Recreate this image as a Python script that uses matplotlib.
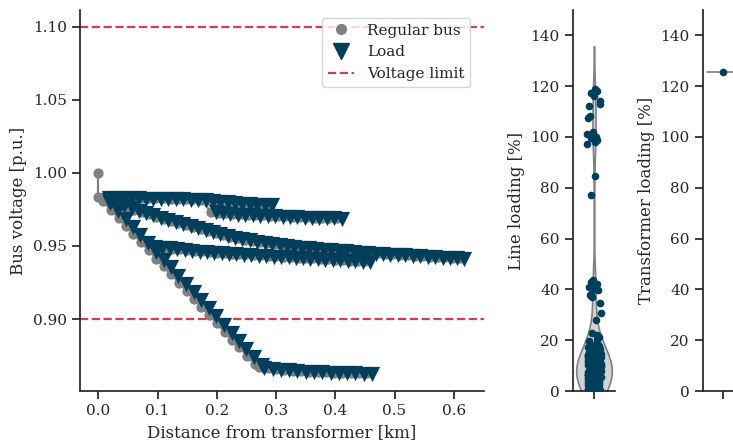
import numpy as np
import matplotlib
matplotlib.use("Agg")
import matplotlib.pyplot as plt
import seaborn as sns
from matplotlib.lines import Line2D

# ---------------- data ----------------
mv_bus = (0.0, 1.000)
lv_bus = (0.0, 0.9836)

# Feeder A (steep part)
a1_bus_x = [0.008, 0.021, 0.034, 0.046, 0.059, 0.072, 0.085, 0.098, 0.110, 0.123, 0.136, 0.149, 0.162, 0.174,
            0.187, 0.200, 0.213, 0.226, 0.238, 0.251, 0.264]
a1_bus_v = [0.9805, 0.9749, 0.9692, 0.9640, 0.9583, 0.9527, 0.9470, 0.9414, 0.9361, 0.9305, 0.9248, 0.9192, 0.9135, 0.9083,
            0.9027, 0.8970, 0.8913, 0.8857, 0.8805, 0.8748, 0.8692]
a1_load_x = [0.020, 0.033, 0.046, 0.058, 0.071, 0.084, 0.097, 0.110, 0.122, 0.135, 0.148, 0.161, 0.174, 0.186,
             0.199, 0.212, 0.225, 0.238, 0.250, 0.263, 0.276]
a1_load_v = [0.9797, 0.9741, 0.9684, 0.9632, 0.9575, 0.9519, 0.9462, 0.9406, 0.9353, 0.9297, 0.9240, 0.9184, 0.9127, 0.9075,
             0.9019, 0.8962, 0.8905, 0.8849, 0.8797, 0.8740, 0.8684]
# Feeder A (flat tail)
a2_bus_x = [0.272, 0.286, 0.300, 0.314, 0.328, 0.342, 0.356, 0.370, 0.384, 0.398, 0.412, 0.426, 0.440, 0.454]
a2_bus_v = [0.8668, 0.8662, 0.8656, 0.8651, 0.8647, 0.8643, 0.8640, 0.8637, 0.8635, 0.8633, 0.8631, 0.8630, 0.8629, 0.8629]
a2_load_x = [0.280, 0.294, 0.308, 0.322, 0.336, 0.350, 0.364, 0.378, 0.392, 0.406, 0.420, 0.434, 0.448, 0.462]
a2_load_v = [0.8665, 0.8659, 0.8653, 0.8648, 0.8644, 0.8640, 0.8637, 0.8634, 0.8632, 0.8630, 0.8628, 0.8627, 0.8626, 0.8626]

# Feeder C (long middle feeder)
c_bus_x = [0.010, 0.023, 0.035, 0.048, 0.060, 0.073, 0.085, 0.098, 0.110, 0.123, 0.135, 0.148, 0.160, 0.173,
           0.185, 0.198, 0.210, 0.223, 0.235, 0.248, 0.260, 0.273, 0.285, 0.298, 0.310, 0.323, 0.335, 0.348,
           0.360, 0.373, 0.385, 0.398, 0.410, 0.423, 0.435, 0.448, 0.460, 0.473, 0.485, 0.498, 0.510, 0.523,
           0.535, 0.548, 0.560, 0.573, 0.585, 0.598, 0.610]
c_bus_v = [0.9822, 0.9800, 0.9782, 0.9764, 0.9747, 0.9731, 0.9716, 0.9700, 0.9685, 0.9670, 0.9655, 0.9641, 0.9627, 0.9613,
           0.9600, 0.9587, 0.9575, 0.9563, 0.9553, 0.9543, 0.9534, 0.9526, 0.9518, 0.9511, 0.9505, 0.9499, 0.9494, 0.9489,
           0.9485, 0.9480, 0.9476, 0.9472, 0.9468, 0.9464, 0.9460, 0.9456, 0.9453, 0.9449, 0.9446, 0.9443, 0.9440, 0.9437,
           0.9434, 0.9431, 0.9428, 0.9425, 0.9423, 0.9420, 0.9418]
c_load_x = [0.018, 0.031, 0.043, 0.056, 0.068, 0.081, 0.093, 0.106, 0.118, 0.131, 0.143, 0.156, 0.168, 0.181,
            0.193, 0.206, 0.218, 0.231, 0.243, 0.256, 0.268, 0.281, 0.293, 0.306, 0.318, 0.331, 0.343, 0.356,
            0.368, 0.381, 0.393, 0.406, 0.418, 0.431, 0.443, 0.456, 0.468, 0.481, 0.493, 0.506, 0.518, 0.531,
            0.543, 0.556, 0.568, 0.581, 0.593, 0.606, 0.618]
c_load_v = [0.9817, 0.9795, 0.9777, 0.9759, 0.9742, 0.9726, 0.9711, 0.9695, 0.9680, 0.9665, 0.9650, 0.9636, 0.9622, 0.9608,
            0.9595, 0.9582, 0.9570, 0.9558, 0.9548, 0.9538, 0.9529, 0.9521, 0.9513, 0.9506, 0.9500, 0.9494, 0.9489, 0.9484,
            0.9480, 0.9475, 0.9471, 0.9467, 0.9463, 0.9459, 0.9455, 0.9451, 0.9448, 0.9444, 0.9441, 0.9438, 0.9435, 0.9432,
            0.9429, 0.9426, 0.9423, 0.9420, 0.9418, 0.9415, 0.9413]

# Feeder D (branch from feeder A)
d_bus_x = [0.088, 0.100, 0.113, 0.125, 0.138, 0.150, 0.163, 0.175, 0.188, 0.200, 0.213, 0.225, 0.238, 0.250, 0.263,
           0.275, 0.288, 0.300, 0.313, 0.325, 0.338, 0.350, 0.363, 0.375, 0.388, 0.400, 0.413, 0.425, 0.438, 0.450]
d_bus_v = [0.9500, 0.9494, 0.9488, 0.9482, 0.9477, 0.9472, 0.9467, 0.9463, 0.9459, 0.9455, 0.9451, 0.9448, 0.9445, 0.9442, 0.9439,
           0.9436, 0.9433, 0.9430, 0.9427, 0.9424, 0.9421, 0.9418, 0.9415, 0.9412, 0.9409, 0.9406, 0.9403, 0.9400, 0.9397, 0.9394]
d_load_x = [0.096, 0.108, 0.121, 0.133, 0.146, 0.158, 0.171, 0.183, 0.196, 0.208, 0.221, 0.233, 0.246, 0.258, 0.271,
            0.283, 0.296, 0.308, 0.321, 0.333, 0.346, 0.358, 0.371, 0.383, 0.396, 0.408, 0.421, 0.433, 0.446, 0.458]
d_load_v = [0.9495, 0.9489, 0.9483, 0.9477, 0.9472, 0.9467, 0.9462, 0.9458, 0.9454, 0.9450, 0.9446, 0.9443, 0.9440, 0.9437, 0.9434,
            0.9431, 0.9428, 0.9425, 0.9422, 0.9419, 0.9416, 0.9413, 0.9410, 0.9407, 0.9404, 0.9401, 0.9398, 0.9395, 0.9392, 0.9389]

# Feeder B (top, almost flat)
b1_bus_x = [0.010, 0.023, 0.035, 0.048, 0.060, 0.073, 0.085, 0.098, 0.110, 0.123, 0.135, 0.148, 0.160, 0.173,
            0.185, 0.198, 0.210, 0.223, 0.235, 0.248, 0.260, 0.273, 0.285]
b1_bus_v = [0.9834, 0.9833, 0.9832, 0.9831, 0.9830, 0.9829, 0.9828, 0.9827, 0.9826, 0.9825, 0.9823, 0.9821, 0.9819, 0.9816,
            0.9812, 0.9807, 0.9802, 0.9798, 0.9794, 0.9790, 0.9787, 0.9784, 0.9782]
b1_load_x = [0.018, 0.031, 0.043, 0.056, 0.068, 0.081, 0.093, 0.106, 0.118, 0.131, 0.143, 0.156, 0.168, 0.181,
             0.193, 0.206, 0.218, 0.231, 0.243, 0.256, 0.268, 0.281, 0.293]
b1_load_v = [0.9830, 0.9829, 0.9828, 0.9827, 0.9826, 0.9825, 0.9824, 0.9823, 0.9822, 0.9821, 0.9819, 0.9817, 0.9815, 0.9812,
             0.9808, 0.9803, 0.9798, 0.9794, 0.9790, 0.9786, 0.9783, 0.9780, 0.9778]
# Feeder B branch (0.97 row)
b2_bus_x = [0.190, 0.203, 0.215, 0.228, 0.240, 0.253, 0.265, 0.278, 0.290, 0.303, 0.315, 0.328, 0.340, 0.353,
            0.365, 0.378, 0.390, 0.403]
b2_bus_v = [0.9735, 0.9728, 0.9723, 0.9719, 0.9716, 0.9713, 0.9711, 0.9709, 0.9707, 0.9705, 0.9703, 0.9701, 0.9699, 0.9697,
            0.9695, 0.9694, 0.9693, 0.9692]
b2_load_x = [0.198, 0.211, 0.223, 0.236, 0.248, 0.261, 0.273, 0.286, 0.298, 0.311, 0.323, 0.336, 0.348, 0.361,
             0.373, 0.386, 0.398, 0.411]
b2_load_v = [0.9731, 0.9724, 0.9719, 0.9715, 0.9712, 0.9709, 0.9707, 0.9705, 0.9703, 0.9701, 0.9699, 0.9697, 0.9695, 0.9693,
             0.9691, 0.9690, 0.9689, 0.9688]

voltage_limits = [0.90, 1.10]

line_loading_high = [119.0, 118.3, 117.2, 116.1, 114.0, 113.1, 112.2, 108.3, 107.6, 102.0, 101.2, 100.6, 100.1, 99.6,
                     99.0, 98.1, 97.3, 84.6, 77.3]
line_loading_mid = [43.6, 43.0, 42.1, 41.6, 41.0, 40.2, 39.6, 38.1, 37.6, 37.0, 34.6, 30.6, 27.8]
line_loading_low = [
    0.3, 0.5, 0.7, 0.8, 1.0, 1.1, 1.3, 1.4, 1.6, 1.7, 1.9, 2.0, 2.2, 2.3, 2.5, 2.6, 2.8, 2.9, 3.1, 3.2,
    3.3, 3.5, 3.6, 3.7, 3.9, 4.0, 4.1, 4.3, 4.4, 4.5, 4.7, 4.8, 4.9, 5.0, 5.2, 5.3, 5.4, 5.5, 5.7, 5.8,
    5.9, 6.0, 6.1, 6.3, 6.4, 6.5, 6.6, 6.8, 6.9, 7.0, 7.1, 7.3, 7.4, 7.5, 7.6, 7.8, 7.9, 8.0, 8.1, 8.3,
    8.4, 8.5, 8.6, 8.8, 8.9, 9.0, 9.1, 9.3, 9.4, 9.5, 9.7, 9.8, 9.9, 10.1, 10.2, 10.3, 10.5, 10.6, 10.8, 10.9,
    11.0, 11.2, 11.3, 11.5, 11.6, 11.8, 11.9, 12.1, 12.3, 12.4, 12.6, 12.8, 13.0, 13.2, 13.4, 13.6, 13.8, 14.0, 14.3, 14.5,
    14.8, 15.1, 15.4, 15.7, 16.0, 16.4, 16.8, 17.2, 17.7, 18.2, 18.8, 19.5, 20.3, 21.2, 22.1, 23.0,
    2.1, 3.4, 4.2, 5.1, 5.6, 6.2, 6.7, 7.2, 7.7, 8.2, 8.7, 9.2, 9.6, 10.0, 10.4, 11.1, 11.7, 12.2, 3.8, 4.6,
    5.4, 6.6, 7.4, 8.6, 9.4, 1.2, 1.8, 2.4, 3.0, 6.9, 7.9, 8.9, 10.7, 12.9, 4.4, 5.8, 6.4, 7.0, 7.6, 13.5]
line_loading = line_loading_high + line_loading_mid + line_loading_low
transformer_loading = [125.6]

# ---------------- style ----------------
sns.set_theme(style="ticks", context="notebook")
plt.rcParams["font.family"] = ["DejaVu Serif"]

DARK = "#003f5c"
GRAY = "#808080"
RED = "#d43d51"

fig = plt.figure(figsize=(7.33, 4.44), dpi=100)
ax = fig.add_axes([80 / 733, 1 - 391 / 444, 404 / 733, 381 / 444])
ax2 = fig.add_axes([573 / 733, 1 - 391 / 444, 42 / 733, 381 / 444])
ax3 = fig.add_axes([703 / 733, 1 - 391 / 444, 40 / 733, 381 / 444])

# --- network lines ---
lw = 1.6
def seg(p, q):
    ax.plot([p[0], q[0]], [p[1], q[1]], color=GRAY, lw=lw, zorder=1, solid_capstyle="round")

seg(mv_bus, lv_bus)

def feeder(parent, bx, bv, lx, lv):
    prev = parent
    for x0, v0, x1, v1 in zip(bx, bv, lx, lv):
        seg(prev, (x0, v0))
        seg((x0, v0), (x1, v1))
        prev = (x0, v0)

feeder(lv_bus, a1_bus_x, a1_bus_v, a1_load_x, a1_load_v)
feeder((a1_bus_x[-1], a1_bus_v[-1]), a2_bus_x, a2_bus_v, a2_load_x, a2_load_v)
feeder(lv_bus, c_bus_x, c_bus_v, c_load_x, c_load_v)
feeder((a1_bus_x[5], a1_bus_v[5]), d_bus_x, d_bus_v, d_load_x, d_load_v)
feeder(lv_bus, b1_bus_x, b1_bus_v, b1_load_x, b1_load_v)
feeder((b1_bus_x[13], b1_bus_v[13]), b2_bus_x, b2_bus_v, b2_load_x, b2_load_v)

reg_x = [mv_bus[0], lv_bus[0]] + a1_bus_x + a2_bus_x + c_bus_x + d_bus_x + b1_bus_x + b2_bus_x
reg_v = [mv_bus[1], lv_bus[1]] + a1_bus_v + a2_bus_v + c_bus_v + d_bus_v + b1_bus_v + b2_bus_v
load_x = a1_load_x + a2_load_x + c_load_x + d_load_x + b1_load_x + b2_load_x
load_v = a1_load_v + a2_load_v + c_load_v + d_load_v + b1_load_v + b2_load_v

ax.scatter(reg_x, reg_v, s=55, color=GRAY, marker="o", linewidths=0, zorder=2)
ax.scatter(load_x, load_v, s=120, color=DARK, marker="v", linewidths=0, zorder=3)
for lim in voltage_limits:
    ax.axhline(lim, color=RED, ls="--", lw=1.6, zorder=0.5)

ax.set_xlabel("Distance from transformer [km]")
ax.set_ylabel("Bus voltage [p.u.]")
ax.set_xlim(-0.031, 0.651)
ax.set_ylim(0.8507, 1.1116)
ax.set_xticks([0.0, 0.1, 0.2, 0.3, 0.4, 0.5, 0.6])
ax.set_yticks([0.90, 0.95, 1.00, 1.05, 1.10])

handles = [
    Line2D([], [], ls="none", marker="o", color=GRAY, markersize=7, label="Regular bus"),
    Line2D([], [], ls="none", marker="v", color=DARK, markersize=11, label="Load"),
    Line2D([], [], ls="--", color=RED, lw=1.6, label="Voltage limit"),
]
ax.legend(handles=handles, loc="upper right", bbox_to_anchor=(0.985, 1.0), handlelength=1.7)

# --- line loading ---
sns.violinplot(y=line_loading, ax=ax2, color="#d3d3d3", linecolor=GRAY, linewidth=1.2,
               inner=None, cut=2, width=0.85, bw_adjust=0.8)
np.random.seed(3)
sns.stripplot(y=line_loading, ax=ax2, color=DARK, size=5.5, jitter=0.17)
ax2.set_ylim(0, 150)
ax2.set_xlim(-0.5, 0.5)
ax2.set_yticks(range(0, 141, 20))
ax2.set_xticks([0])
ax2.set_xticklabels([""])
ax2.set_ylabel("Line loading [%]")

# --- transformer loading ---
sns.violinplot(y=transformer_loading, ax=ax3, color="#d3d3d3", linecolor=GRAY, linewidth=1.2, inner=None)
sns.stripplot(y=transformer_loading, ax=ax3, color=DARK, size=5.5, jitter=False)
ax3.set_ylim(0, 150)
ax3.set_xlim(-0.5, 0.5)
ax3.set_yticks(range(0, 141, 20))
ax3.set_xticks([0])
ax3.set_xticklabels([""])
ax3.set_ylabel("Transformer loading [%]")

for a in (ax, ax2, ax3):
    sns.despine(ax=a)

fig.savefig("out.png", dpi=100)
